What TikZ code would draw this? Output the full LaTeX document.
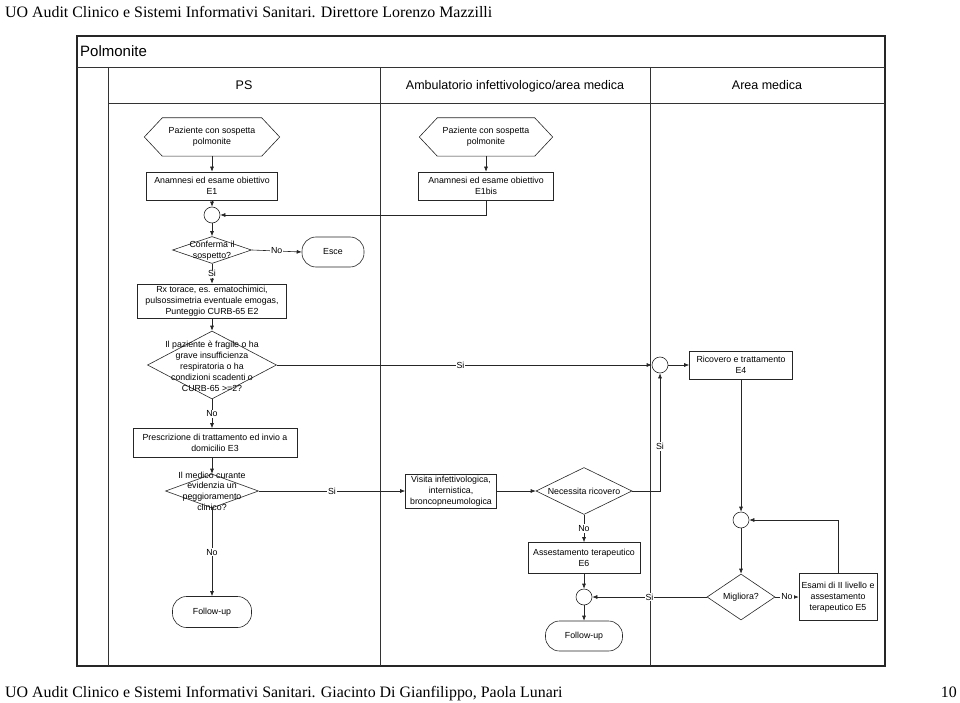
\documentclass[tikz,border=0pt]{standalone}
\usepackage{fontspec}
\setmainfont{Liberation Serif}
\newfontfamily\arialf{Liberation Sans}
\usetikzlibrary{shapes.geometric,arrows.meta}
\begin{document}
\begin{tikzpicture}[x=1pt,y=-1pt,
  frame/.style={draw=black!85, line width=1.2pt},
  lane/.style={draw=black!80, line width=0.9pt},
  flow/.style={draw=black!85, line width=0.6pt, fill=white, inner sep=0pt, align=center, font=\arialf\fontsize{8.8}{10.8}\selectfont},
  box/.style={flow, rectangle},
  term/.style={flow, rectangle, rounded corners=14pt},
  junc/.style={flow, circle, minimum size=16pt},
  dec/.style={draw=black!85, line width=0.6pt, diamond, inner sep=0pt},
  hexn/.style={inner sep=0pt, align=center, font=\arialf\fontsize{8.8}{10.8}\selectfont},
  dtext/.style={inner sep=0pt, align=center, font=\arialf\fontsize{8.8}{11}\selectfont},
  conn/.style={draw=black!85, line width=0.6pt, -{Latex[length=5pt,width=4pt]}},
  plain/.style={draw=black!85, line width=0.6pt},
  lbl/.style={fill=white, inner sep=1pt, font=\arialf\fontsize{8.8}{10}\selectfont},
  head/.style={inner sep=0pt, anchor=base, font=\arialf\fontsize{12.5}{14}\selectfont},
  pagetxt/.style={inner sep=0pt, font=\fontsize{15.9}{18}\selectfont},
]
\useasboundingbox (0,0) rectangle (960,703);

% page header and footer
\node[pagetxt, anchor=base west] (ptop) at (5,18) {UO Audit Clinico e Sistemi Informativi Sanitari. Direttore Lorenzo Mazzilli};
\node[pagetxt, anchor=base west] (pbot) at (5,697) {UO Audit Clinico e Sistemi Informativi Sanitari. Giacinto Di Gianfilippo, Paola Lunari};
\node[pagetxt, anchor=base east] (pnum) at (957,697) {10};

% swimlane frame
\draw[frame] (77,36) rectangle (885,666);
\draw[lane] (77,67) -- (885,67);
\draw[lane] (108,67) -- (108,666);
\draw[lane] (108,103) -- (885,103);
\draw[lane] (380,67) -- (380,666);
\draw[lane] (650,67) -- (650,666);
\node[inner sep=0pt, anchor=west, font=\arialf\fontsize{15}{17}\selectfont] (title) at (80,51) {Polmonite};
\node[head] (hps) at (244,89.5) {PS};
\node[head] (hamb) at (515,89.5) {Ambulatorio infettivologico/area medica};
\node[head] (harea) at (767,89.5) {Area medica};

% PS lane
\node[hexn, minimum width=135pt, minimum height=38pt] (h1) at (212,137) {Paziente con sospetta\\polmonite};
\draw[plain] (h1.west) -- ([xshift=18pt]h1.north west) -- ([xshift=-18pt]h1.north east) -- (h1.east) -- ([xshift=-18pt]h1.south east) -- ([xshift=18pt]h1.south west) -- cycle;
\node[box, minimum width=131pt, minimum height=28pt] (e1) at (212,186) {Anamnesi ed esame obiettivo\\E1};
\node[junc] (c1) at (212,215) {};
\node[dec, minimum width=79pt, minimum height=27pt] (d1) at (212,250) {};
\node[dtext] (d1t) at (212,251) {Conferma il\\sospetto?};
\node[term, minimum width=62pt, minimum height=30pt] (esce) at (333,252) {Esce};
\node[box, minimum width=149pt, minimum height=34pt] (e2) at (212,301) {Rx torace, es. ematochimici,\\pulsossimetria eventuale emogas,\\Punteggio CURB-65 E2};
\node[dec, minimum width=129pt, minimum height=68pt] (d2) at (212,365) {};
\node[dtext] (d2t) at (212,366) {Il paziente \`e fragile o ha\\grave insufficienza\\respiratoria o ha\\condizioni scadenti o\\CURB-65 >=2?};
\node[box, minimum width=164pt, minimum height=29pt] (e3) at (215,443) {Prescrizione di trattamento ed invio a\\domicilio E3};
\node[dec, minimum width=93pt, minimum height=34pt] (d3) at (212,491) {};
\node[dtext, font=\arialf\fontsize{8.8}{10.7}\selectfont] (d3t) at (212,491) {Il medico curante\\evidenzia un\\peggioramento\\clinico?};
\node[term, minimum width=79pt, minimum height=31pt] (fu1) at (212,612) {Follow-up};

% Ambulatorio lane
\node[hexn, minimum width=133pt, minimum height=38pt] (h2) at (486,137) {Paziente con sospetta\\polmonite};
\draw[plain] (h2.west) -- ([xshift=18pt]h2.north west) -- ([xshift=-18pt]h2.north east) -- (h2.east) -- ([xshift=-18pt]h2.south east) -- ([xshift=18pt]h2.south west) -- cycle;
\node[box, minimum width=135pt, minimum height=28pt] (e1b) at (486,186) {Anamnesi ed esame obiettivo\\E1bis};
\node[box, minimum width=91pt, minimum height=34pt] (vis) at (451,491) {Visita infettivologica,\\internistica,\\broncopneumologica};
\node[dec, minimum width=96pt, minimum height=47pt] (d4) at (584,491) {};
\node[dtext] (d4t) at (584,491) {Necessita ricovero};
\node[box, minimum width=112pt, minimum height=31pt] (e6) at (584,558) {Assestamento terapeutico\\E6};
\node[junc] (c3) at (584,597) {};
\node[term, minimum width=77pt, minimum height=30pt] (fu2) at (584,636) {Follow-up};

% Area medica lane
\node[junc] (c2) at (660,365) {};
\node[box, minimum width=103pt, minimum height=28pt] (e4) at (741,365) {Ricovero e trattamento\\E4};
\node[junc] (c4) at (741,520) {};
\node[dec, minimum width=68pt, minimum height=46pt] (d5) at (741,597) {};
\node[dtext] (d5t) at (741,597) {Migliora?};
\node[box, minimum width=78pt, minimum height=47pt] (e5) at (838,597) {Esami di II livello e\\assestamento\\terapeutico E5};

% connectors
\draw[conn] (h1) -- (e1);
\draw[conn] (e1) -- (c1);
\draw[conn] (h2) -- (e1b);
\draw[conn] (e1b.south) |- (c1.east);
\draw[conn] (c1) -- (d1);
\draw[conn] (d1.east) -- node[lbl] {No} (esce.west);
\draw[conn] (d1.south) -- node[lbl] {Si} (e2.north);
\draw[conn] (e2) -- (d2);
\draw[conn] (d2.east) -- node[lbl, pos=0.49] {Si} (c2.west);
\draw[conn] (d2.south) -- node[lbl] {No} (d2.south |- e3.north);
\draw[conn] (e3.south -| d3) -- (d3.north);
\draw[conn] (d3.east) -- node[lbl] {Si} (vis.west);
\draw[conn] (d3.south) -- node[lbl] {No} (fu1.north);
\draw[conn] (vis.east) -- (d4.west);
\draw[conn] (d4.east) -| node[lbl, pos=0.69] {Si} (c2.south);
\draw[conn] (d4.south) -- node[lbl] {No} (e6.north);
\draw[conn] (e6) -- (c3);
\draw[conn] (c3) -- (fu2);
\draw[conn] (c2) -- (e4);
\draw[conn] (e4) -- (c4);
\draw[conn] (c4) -- (d5);
\draw[conn] (d5.west) -- node[lbl] {Si} (c3.east);
\draw[conn] (d5.east) -- node[lbl] {No} (e5.west);
\draw[conn] (e5.north) |- (c4.east);
\end{tikzpicture}
\end{document}
